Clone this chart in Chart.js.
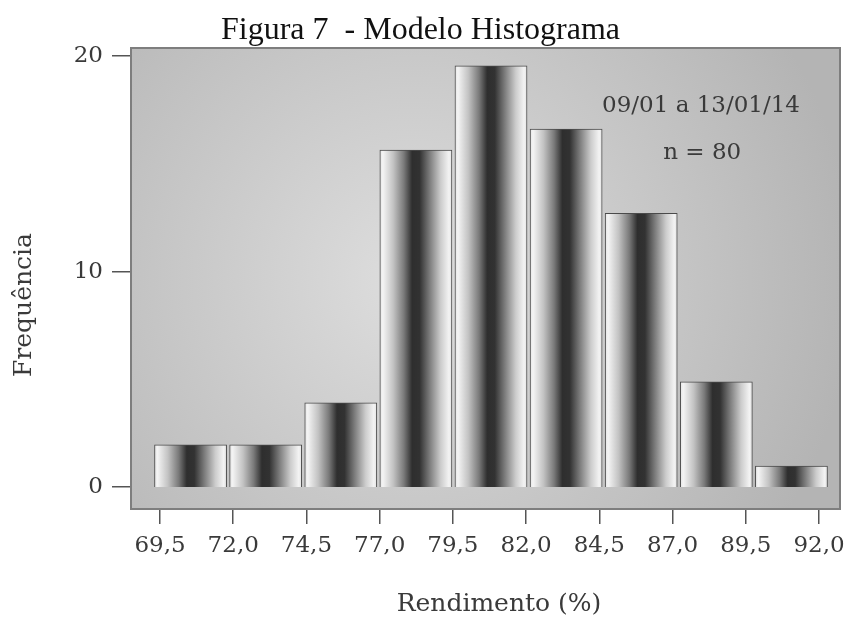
<!DOCTYPE html>
<html>
<head>
<meta charset="utf-8">
<script src="https://cdn.jsdelivr.net/npm/chart.js@4/dist/chart.umd.min.js"></script>
<style>
  html, body { margin: 0; padding: 0; background: #ffffff; }
  #wrap { width: 847px; height: 618px; position: relative; }
</style>
</head>
<body>
<div id="wrap"><canvas id="hist"></canvas></div>
<script>
// Class limits (Rendimento %) and the number of observations in each class
const binEdges = [69.5, 72.0, 74.5, 77.0, 79.5, 82.0, 84.5, 87.0, 89.5, 92.0];
const frequencies = [2, 2, 4, 16, 20, 17, 13, 5, 1];
const xTickValues = [69.5, 72.0, 74.5, 77.0, 79.5, 82.0, 84.5, 87.0, 89.5, 92.0];
const yTickValues = [0, 10, 20];

const chartTitle = 'Figura 7  - Modelo Histograma';
const xTitle = 'Rendimento (%)';
const yTitle = 'Frequência';
const noteLines = ['09/01 a 13/01/14', 'n = 80'];

// One bar per class, centred on the class midpoint
const histPoints = frequencies.map((f, i) => ({
  x: (binEdges[i] + binEdges[i + 1]) / 2,
  lo: binEdges[i],
  hi: binEdges[i + 1],
  y: f
}));

const serif = '"DejaVu Serif", "Liberation Serif", serif';
const textColor = '#3a3a3a';

// Metallic, cylinder-like shading across each bar
function barShade(c) {
  const chart = c.chart;
  const xs = chart.scales.xb;
  if (!chart.chartArea || !xs || c.type !== 'data') return '#888888';
  const p = c.raw;
  const x0 = xs.getPixelForValue(p.lo);
  const x1 = xs.getPixelForValue(p.hi);
  const g = chart.ctx.createLinearGradient(x0, 0, x1, 0);
  g.addColorStop(0.00, '#dcdcdc');
  g.addColorStop(0.06, '#f4f4f4');
  g.addColorStop(0.20, '#c2c2c2');
  g.addColorStop(0.34, '#7a7a7a');
  g.addColorStop(0.45, '#2e2e2e');
  g.addColorStop(0.55, '#323232');
  g.addColorStop(0.68, '#7a7a7a');
  g.addColorStop(0.83, '#cccccc');
  g.addColorStop(0.94, '#f3f3f3');
  g.addColorStop(1.00, '#dadada');
  return g;
}

// Grey panel with a soft radial light behind the bars
const plotBackground = {
  id: 'plotBackground',
  beforeDraw(chart) {
    const { ctx, chartArea: a } = chart;
    ctx.save();
    const cx = a.left + a.width * 0.40, cy = a.top + a.height * 0.5;
    const g = ctx.createRadialGradient(cx, cy, 10, cx, cy, a.width * 0.62);
    g.addColorStop(0, '#dddddd');
    g.addColorStop(1, '#b4b4b4');
    ctx.fillStyle = g;
    ctx.fillRect(a.left, a.top, a.width, a.height);
    ctx.strokeStyle = '#7e7e7e';
    ctx.lineWidth = 2;
    ctx.strokeRect(a.left + 1, a.top + 1, a.width - 2, a.height - 2);
    ctx.restore();
  }
};

// Axis titles and the period / sample-size note
const chartTexts = {
  id: 'chartTexts',
  afterDraw(chart, args, opts) {
    const { ctx } = chart;
    const xs = chart.scales.xb, ys = chart.scales.yb;
    ctx.save();
    ctx.fillStyle = textColor;
    ctx.textAlign = 'center';
    ctx.textBaseline = 'middle';
    ctx.font = '23px ' + serif;
    noteLines.forEach((t, i) => {
      const pos = opts.notes[i];
      ctx.fillText(t, xs.getPixelForValue(pos.x), ys.getPixelForValue(pos.y));
    });
    ctx.font = '25px ' + serif;
    ctx.fillText(xTitle, opts.xTitleAt.x, opts.xTitleAt.y);
    ctx.translate(opts.yTitleAt.x, opts.yTitleAt.y);
    ctx.rotate(-Math.PI / 2);
    ctx.fillText(yTitle, 0, 0);
    ctx.restore();
  }
};

new Chart(document.getElementById('hist'), {
  type: 'bar',
  data: {
    datasets: [{
      data: histPoints,
      xAxisID: 'xb',
      yAxisID: 'yb',
      backgroundColor: barShade,
      borderColor: '#4a4a4a',
      borderWidth: 1,
      barPercentage: 1,
      categoryPercentage: 1
    }]
  },
  plugins: [plotBackground, chartTexts],
  options: {
    responsive: true,
    maintainAspectRatio: false,
    animation: false,
    layout: { padding: { left: 0, right: 6, top: 0, bottom: 0 } },
    plugins: {
      legend: { display: false },
      tooltip: { enabled: false },
      title: {
        display: true,
        text: chartTitle,
        color: '#111111',
        font: { family: '"Liberation Serif", "Times New Roman", serif', size: 32, weight: 'normal', lineHeight: 1 },
        padding: { top: 15, bottom: 0 }
      },
      chartTexts: {
        notes: [{ x: 87.74, y: 18.1 }, { x: 87.78, y: 15.88 }],
        xTitleAt: { x: 499, y: 604 },
        yTitleAt: { x: 24, y: 305 }
      }
    },
    scales: {
      // scales that place the bars
      xb: {
        type: 'linear', position: 'bottom', display: false,
        offset: false, grid: { offset: false },
        min: 68.734, max: 92.40
      },
      yb: {
        type: 'linear', position: 'left', display: false,
        min: -1.09, max: 20.9
      },
      // scales that carry the printed axes
      x: {
        type: 'linear', position: 'bottom',
        offset: false,
        min: 68.476, max: 92.751,
        afterBuildTicks: s => { s.ticks = xTickValues.map(v => ({ value: v })); },
        afterFit: s => { s.height = 108; s.paddingLeft = 0; s.paddingRight = 0; },
        border: { display: false },
        grid: { offset: false, drawOnChartArea: false, drawTicks: true, tickLength: 14, tickColor: '#555555', lineWidth: 1.5 },
        ticks: {
          autoSkip: false, maxRotation: 0, padding: 8, color: textColor,
          font: { family: serif, size: 23 },
          callback: v => Number(v).toFixed(1).replace('.', ',')
        }
      },
      y: {
        type: 'linear', position: 'left',
        min: -1.065, max: 20.42,
        afterBuildTicks: s => { s.ticks = yTickValues.map(v => ({ value: v })); },
        afterFit: s => { s.width = 130; s.paddingTop = 0; s.paddingBottom = 0; },
        border: { display: false },
        grid: { drawOnChartArea: false, drawTicks: true, tickLength: 18, tickColor: '#555555', lineWidth: 1.5 },
        ticks: {
          padding: 9, color: textColor,
          font: { family: serif, size: 23 },
          callback: v => String(v)
        }
      }
    }
  }
});
</script>
</body>
</html>
